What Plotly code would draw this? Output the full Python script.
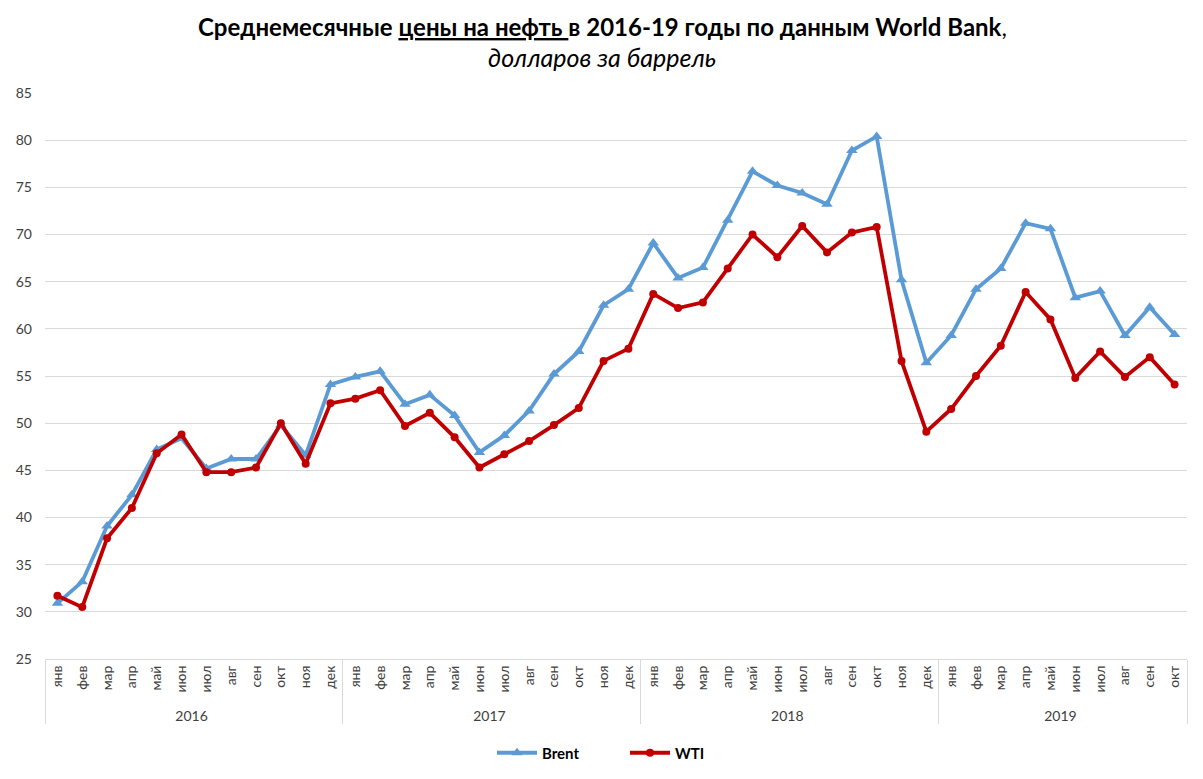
import plotly.graph_objects as go

years = ["2016", "2017", "2018", "2019"]
months = ["янв", "фев", "мар", "апр", "май", "июн", "июл", "авг", "сен", "окт", "ноя", "дек"]

brent = [30.9, 33.2, 39.1, 42.4, 47.2, 48.4, 45.2, 46.2, 46.2, 49.8, 46.6, 54.1,
         54.9, 55.5, 52.0, 53.0, 50.8, 46.9, 48.7, 51.3, 55.2, 57.6, 62.5, 64.2,
         69.1, 65.4, 66.5, 71.5, 76.7, 75.2, 74.4, 73.2, 78.9, 80.4, 65.2, 56.4,
         59.3, 64.2, 66.4, 71.2, 70.6, 63.3, 64.0, 59.3, 62.3, 59.4]
wti = [31.7, 30.5, 37.8, 41.0, 46.8, 48.8, 44.8, 44.8, 45.3, 50.0, 45.7, 52.1,
       52.6, 53.5, 49.7, 51.1, 48.5, 45.3, 46.7, 48.1, 49.8, 51.6, 56.6, 57.9,
       63.7, 62.2, 62.8, 66.4, 70.0, 67.6, 70.9, 68.1, 70.2, 70.8, 56.6, 49.1,
       51.5, 55.0, 58.2, 63.9, 61.0, 54.8, 57.6, 54.9, 57.0, 54.1]

n = len(brent)
x_years = [years[i // 12] for i in range(n)]
x_months = [months[i % 12] for i in range(n)]

FONT = "Lato"

# page has an 8px body margin, so the figure is sized to fit inside it
W, H = 1187, 763
ML, MR, MT, MB = 37, 8, 85, 112
PH = H - MT - MB
PW = W - ML - MR

fig = go.Figure()
fig.add_trace(go.Scatter(
    x=[x_years, x_months], y=brent, name="<b>Brent</b>", mode="lines+markers",
    line=dict(color="#5B9BD5", width=3.8),
    marker=dict(symbol="triangle-up", size=10, color="#5B9BD5"),
))
fig.add_trace(go.Scatter(
    x=[x_years, x_months], y=wti, name="<b>WTI</b>", mode="lines+markers",
    line=dict(color="#C00000", width=3.8),
    marker=dict(symbol="circle", size=8, color="#C00000"),
))

title_x = (594 - ML) / PW
fig.add_annotation(
    text="<b>Среднемесячные <u>цены на нефть </u>в 2016-19 годы по данным World Bank</b>,",
    xref="paper", yref="paper", x=title_x, xanchor="center",
    y=1 + (MT - 18) / PH, yanchor="middle", showarrow=False,
    font=dict(family=FONT, size=24, color="black"),
)
fig.add_annotation(
    text="<i>долларов за баррель</i>",
    xref="paper", yref="paper", x=title_x, xanchor="center",
    y=1 + (MT - 49) / PH, yanchor="middle", showarrow=False,
    font=dict(family=FONT, size=25, color="black"),
)

fig.update_layout(
    width=W, height=H,
    paper_bgcolor="white", plot_bgcolor="white",
    margin=dict(l=ML, r=MR, t=MT, b=MB, autoexpand=False),
    font=dict(family=FONT, size=13, color="#404040"),
    showlegend=True,
    legend=dict(orientation="h", x=(484 - ML) / PW, xanchor="left",
                y=-(745 - (H - MB)) / PH, yanchor="middle",
                entrywidth=78, entrywidthmode="pixels",
                font=dict(family=FONT, size=15, color="black"), itemwidth=40),
    xaxis=dict(
        type="multicategory", tickangle=-90, showgrid=False,
        range=[-0.5, n - 0.5], automargin=False,
        showline=True, linecolor="#D9D9D9", linewidth=1,
        showdividers=True, dividercolor="#D9D9D9", dividerwidth=1,
        ticks="", tickfont=dict(family=FONT, size=14, color="#404040"),
    ),
    yaxis=dict(
        range=[25, 85], dtick=5, showgrid=True, gridcolor="#D9D9D9", gridwidth=1,
        zeroline=False, showline=False, ticks="", automargin=False,
        ticklabelstandoff=12,
        tickfont=dict(family=FONT, size=14, color="#404040"),
    ),
)

fig.write_html("out.html")
